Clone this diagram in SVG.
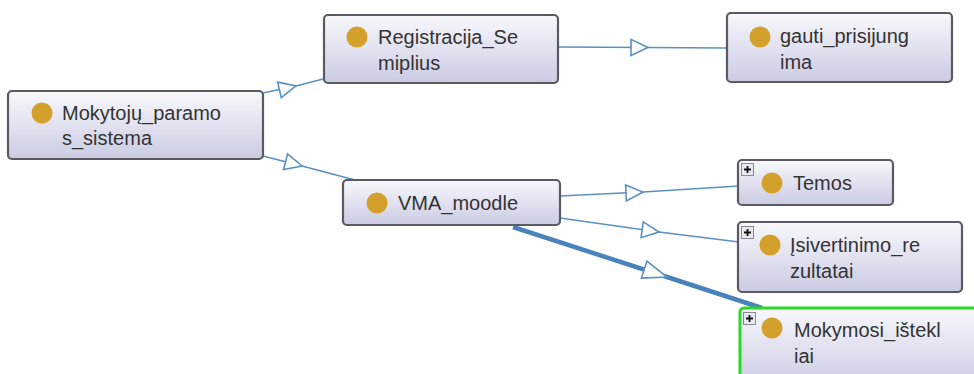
<svg xmlns="http://www.w3.org/2000/svg" width="974" height="374" viewBox="0 0 974 374">
<defs>
<linearGradient id="nodeFill" x1="0" y1="0" x2="0" y2="1">
<stop offset="0" stop-color="#f8f8fc"/>
<stop offset="1" stop-color="#cbcbe4"/>
</linearGradient>
<marker id="tri" markerUnits="userSpaceOnUse" markerWidth="20" markerHeight="20" refX="18" refY="9" orient="auto" overflow="visible">
<path d="M1,1 L18,9 L1,17 Z" fill="#ffffff" stroke="#5a90c2" stroke-width="1.6" stroke-linejoin="miter"/>
</marker>
<marker id="triBig" markerUnits="userSpaceOnUse" markerWidth="28" markerHeight="24" refX="25" refY="10" orient="auto" overflow="visible">
<path d="M1,1 L25,10 L1,19 Z" fill="#ffffff" stroke="#5a90c2" stroke-width="1.6" stroke-linejoin="miter"/>
</marker>
</defs>
<style>
.node rect.box{fill:url(#nodeFill);stroke:#5a5a60;stroke-width:2.2}
.node circle{fill:#d3a12b}
.node text{font-family:"Liberation Sans",Arial,sans-serif;font-size:20px;fill:#333333}
.plus rect{fill:#e8e8f0;stroke:#8a8a96;stroke-width:1}
.plus path{stroke:#111111;stroke-width:1.8;fill:none}
.edge{fill:none;stroke:#5a90c2;stroke-width:1.6;marker-mid:url(#tri)}
.edge.thick{stroke:#4a82bb;stroke-width:4.5;marker-mid:url(#triBig)}
</style>
<rect width="974" height="374" fill="#ffffff"/>
<g id="connectors">
<path class="edge" d="M263,93 L296,86 L323,79"/>
<path class="edge" d="M263,156 L302,166 L355,180"/>
<path class="edge" d="M558,47 L648,47.5 L727,48"/>
<path class="edge" d="M560,196 L643,192 L739,186"/>
<path class="edge" d="M560,218 L659,232 L739,242"/>
<path class="edge thick" d="M513,227 L667,277 L762,308"/>
</g>
<g id="n_mokytoju" class="node">
<rect class="box" x="8" y="91" width="255" height="68" rx="4"/>
<circle cx="42" cy="113" r="10.5"/>
<text x="62" y="120">Mokytojų_paramo</text>
<text x="62" y="145">s_sistema</text>
</g>
<g id="n_registracija" class="node">
<rect class="box" x="324" y="15" width="234" height="68" rx="4"/>
<circle cx="357" cy="37" r="10.5"/>
<text x="378" y="44">Registracija_Se</text>
<text x="378" y="70">miplius</text>
</g>
<g id="n_gauti" class="node">
<rect class="box" x="727" y="13" width="225" height="69" rx="4"/>
<circle cx="760" cy="37" r="10.5"/>
<text x="780" y="43">gauti_prisijung</text>
<text x="780" y="69">ima</text>
</g>
<g id="n_vma" class="node">
<rect class="box" x="343" y="180" width="217" height="45" rx="4"/>
<circle cx="377" cy="203" r="10.5"/>
<text x="398" y="210">VMA_moodle</text>
</g>
<g id="n_temos" class="node">
<rect class="box" x="738" y="160" width="155" height="45" rx="4"/>
<g class="plus"><rect x="741.5" y="163.5" width="12" height="12"/><path d="M744,169.5 H751 M747.5,166 V173"/></g>
<circle cx="772" cy="183" r="10.5"/>
<text x="793" y="190">Temos</text>
</g>
<g id="n_isvertinimo" class="node">
<rect class="box" x="738" y="222" width="224" height="70" rx="4"/>
<g class="plus"><rect x="741.5" y="226.5" width="12" height="12"/><path d="M744,232.5 H751 M747.5,229 V236"/></g>
<circle cx="770" cy="245" r="10.5"/>
<text x="790" y="252">Įsivertinimo_re</text>
<text x="790" y="278">zultatai</text>
</g>
<g id="n_mokymosi" class="node">
<rect class="box" x="740" y="308" width="250" height="80" rx="4" style="stroke:#2ad82a;stroke-width:3"/>
<g class="plus"><rect x="743.5" y="312.5" width="12" height="12"/><path d="M746,318.5 H753 M749.5,315 V322"/></g>
<circle cx="772" cy="328" r="10.5"/>
<text x="794" y="337">Mokymosi_ištekl</text>
<text x="794" y="363">iai</text>
</g>
</svg>
